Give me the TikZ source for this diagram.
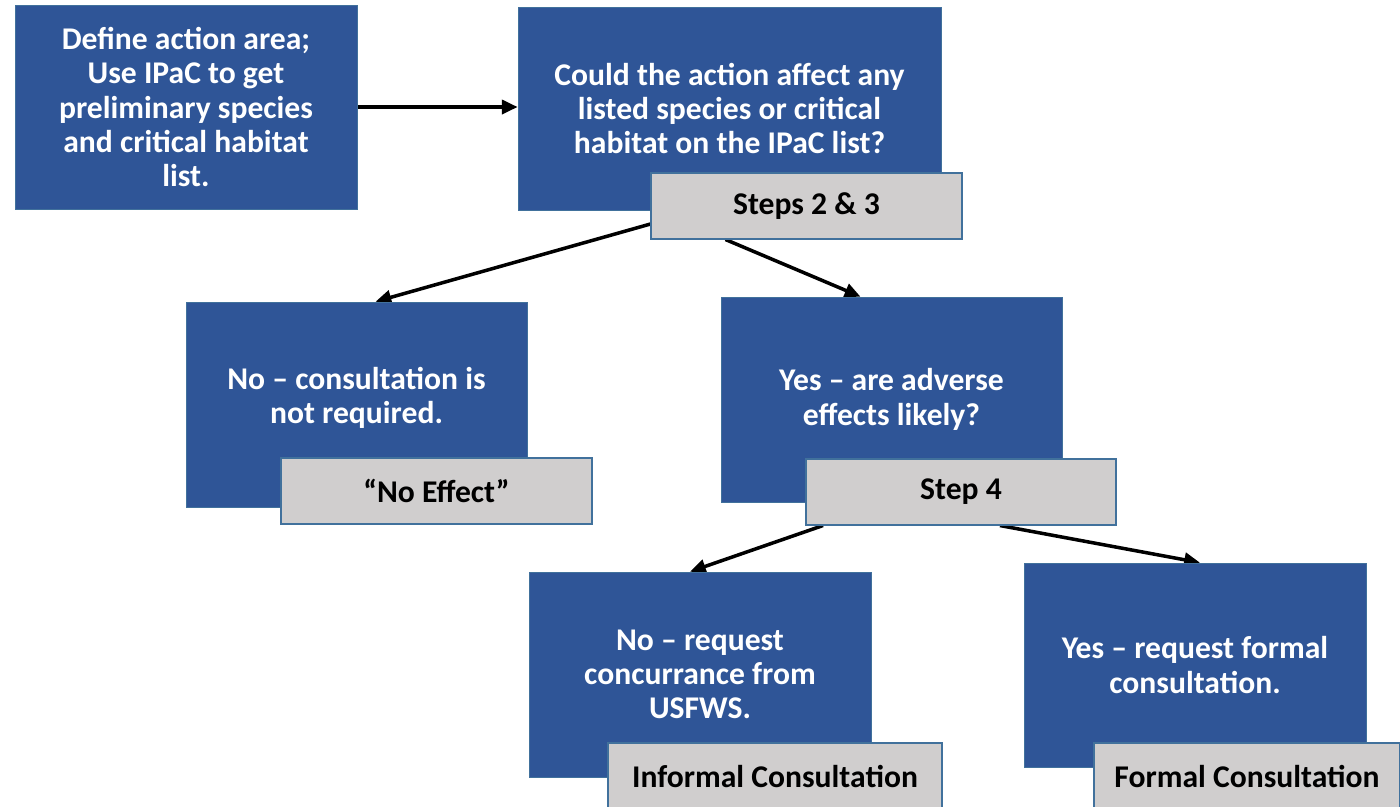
\documentclass[tikz,border=0pt]{standalone}
\usepackage{fontspec}
\setmainfont{Carlito}
\usetikzlibrary{arrows.meta,calc,backgrounds}
\definecolor{boxblue}{RGB}{47,85,151}
\definecolor{boxedge}{RGB}{65,113,156}
\definecolor{labgray}{RGB}{208,206,206}
\begin{document}
\begin{tikzpicture}[x=0.02cm,y=-0.02cm,
  bluebox/.style={rectangle,fill=boxblue,draw=boxedge,line width=0.4pt,text=white,
    font=\fontsize{18}{19.5}\selectfont\bfseries,align=center,inner sep=0pt},
  graybox/.style={rectangle,fill=labgray,draw=boxedge,line width=0.6pt,text=black,
    font=\fontsize{18}{19.5}\selectfont\bfseries,align=center,inner sep=0pt},
  conn/.style={line width=2pt,-{Triangle[length=9pt,width=8pt]}}]
\clip (0,0) rectangle (1400,806);
% blue boxes
\node[bluebox,minimum width=342*0.02cm,minimum height=204*0.02cm] (A) at (186,107)
  {Define action area;\\Use IPaC to get\\preliminary species\\and critical habitat\\list.};
\node[bluebox,minimum width=423*0.02cm,minimum height=203*0.02cm] (B) at (729.5,108.5)
  {Could the action affect any\\listed species or critical\\habitat on the IPaC list?};
\node[bluebox,minimum width=341*0.02cm,minimum height=205*0.02cm] (C) at (356.5,404.5)
  {No -- consultation is\\not required.\\[-9pt]};
\node[bluebox,minimum width=341*0.02cm,minimum height=205*0.02cm] (D) at (891.5,399.5)
  {Yes -- are adverse\\effects likely?};
\node[bluebox,minimum width=342*0.02cm,minimum height=205*0.02cm] (E) at (700,674.5)
  {No -- request\\concurrance from\\USFWS.};
\node[bluebox,minimum width=342*0.02cm,minimum height=204*0.02cm] (F) at (1195,665)
  {Yes -- request formal\\consultation.};
% gray labels
\node[graybox,minimum width=311*0.02cm,minimum height=66*0.02cm] (S23) at (806.5,206) {Steps 2 \& 3};
\node[graybox,minimum width=311*0.02cm,minimum height=66*0.02cm] (NE) at (436.5,491) {``No Effect''};
\node[graybox,minimum width=310*0.02cm,minimum height=66*0.02cm] (S4) at (961,492) {Step 4};
\node[graybox,minimum width=334*0.02cm,minimum height=66*0.02cm] (IC) at (775,776) {Informal Consultation};
\node[graybox,minimum width=306*0.02cm,minimum height=66*0.02cm] (FC) at (1247,776) {Formal Consultation};
% connector ends
\coordinate (s1) at ($(S23.west)+(0,18)$);
\coordinate (e1) at ($(C.north)+(19,0)$);
\coordinate (s2) at ($(S23.south)+(-81,0)$);
\coordinate (e2) at ($(D.north)+(-31,0)$);
\coordinate (s3) at ($(S4.south)+(-138,0)$);
\coordinate (e3) at ($(E.north)+(-10,0)$);
\coordinate (s4) at ($(S4.south)+(39,0)$);
\coordinate (e4) at ($(F.north)+(5,0)$);
\begin{pgfonlayer}{background}
\draw[conn] (A.east) -- (A.east -| B.west);
\draw[conn] (s1) -- (e1);
\draw[conn] (s2) -- (e2);
\draw[conn] (s3) -- (e3);
\draw[conn] (s4) -- (e4);
\end{pgfonlayer}
\end{tikzpicture}
\end{document}
